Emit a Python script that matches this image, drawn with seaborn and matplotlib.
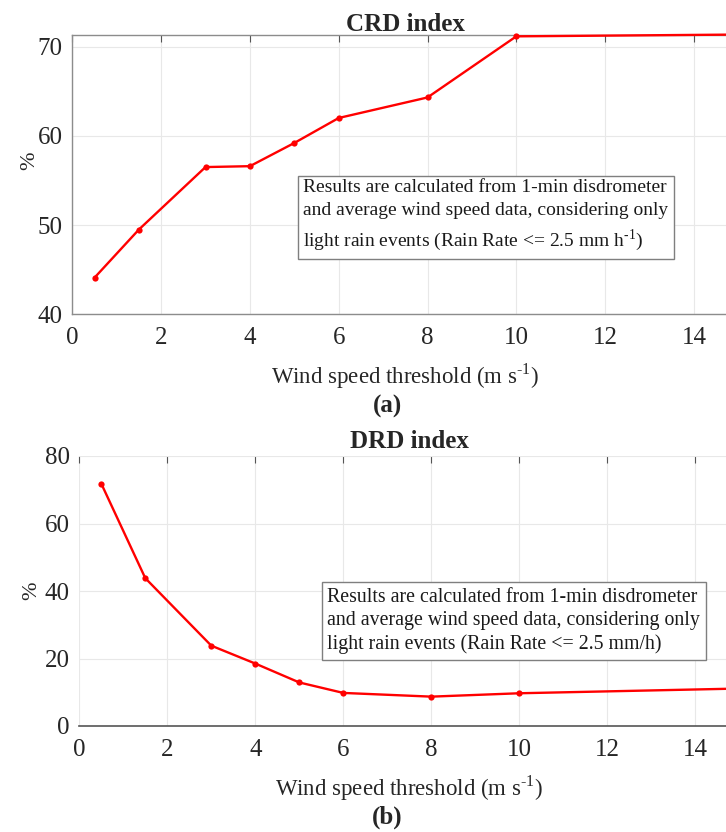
import matplotlib
matplotlib.use("Agg")
import matplotlib.pyplot as plt
import seaborn as sns
import pandas as pd

# Wind speed thresholds (m/s) and index values (%)
wind_threshold = [0.5, 1.5, 3, 4, 5, 6, 8, 10, 15]
crd_values = [44.1, 49.5, 56.5, 56.6, 59.2, 62.0, 64.3, 71.15, 71.35]
drd_values = [71.8, 43.8, 23.8, 18.5, 12.9, 9.8, 8.7, 9.7, 11.1]

x_ticks = [0, 2, 4, 6, 8, 10, 12, 14]
crd_yticks = [40, 50, 60, 70]
drd_yticks = [0, 20, 40, 60, 80]

note_crd = ("Results are calculated from 1-min disdrometer\n"
            "and average wind speed data, considering only\n"
            "light rain events (Rain Rate <= 2.5 mm h$^{\\text{-1}}$)")
note_drd = ("Results are calculated from 1-min disdrometer\n"
            "and average wind speed data, considering only\n"
            "light rain events (Rain Rate <= 2.5 mm/h)")
x_label = "Wind speed threshold (m s$^{\\text{-1}}$)"

sns.set_theme(style="white")
plt.rcParams["font.family"] = ["Liberation Serif", "DejaVu Serif"]
plt.rcParams["mathtext.fontset"] = "custom"
plt.rcParams["mathtext.rm"] = "Liberation Serif"

W, H = 726, 832
fig = plt.figure(figsize=(W / 100, H / 100), dpi=100)


def px_axes(left, top, right, bottom):
    return fig.add_axes([left / W, 1 - bottom / H, (right - left) / W, (bottom - top) / H])


ax1 = px_axes(72.3, 35, 738.3, 314.3)
ax2 = px_axes(79.3, 456, 739.3, 726)

df1 = pd.DataFrame({"wind": wind_threshold, "val": crd_values})
df2 = pd.DataFrame({"wind": wind_threshold, "val": drd_values})

for ax, df in ((ax1, df1), (ax2, df2)):
    sns.lineplot(data=df, x="wind", y="val", ax=ax, color="#ff0000", lw=1.7,
                 marker="o", markersize=4.5, markeredgewidth=0, clip_on=False, zorder=3)
    ax.set_xlim(0, 15)
    ax.set_xticks(x_ticks)
    ax.grid(True, color="#e8e8e8", lw=0.8, zorder=0)
    ax.tick_params(axis="both", direction="in", length=5, width=0.8, color="#555555",
                   top=True, right=True, labelsize=18, labelcolor="#262626")
    ax.tick_params(axis="x", pad=9)
    ax.tick_params(axis="y", pad=7)
    ax.set_xlabel(x_label, fontsize=16.5, color="#262626", labelpad=9)
    ax.set_ylabel("%", fontsize=16, color="#262626")
    ax.set_facecolor("white")

ax1.set_ylim(40, 71.3)
ax1.set_yticks(crd_yticks)
for s in ax1.spines.values():
    s.set_color("#8c8c8c")
    s.set_linewidth(1.0)

ax2.set_ylim(0, 80)
ax2.set_yticks(drd_yticks)
for name, s in ax2.spines.items():
    s.set_visible(name == "bottom")
ax2.spines["bottom"].set_color("#555555")
ax2.spines["bottom"].set_linewidth(1.2)

ax1.set_title("CRD index", fontsize=18, fontweight="bold", pad=3)
ax2.set_title("DRD index", fontsize=18, fontweight="bold", pad=6)

ax1.yaxis.set_label_coords(-0.05, 0.55)
ax2.yaxis.set_label_coords(-0.058, 0.5)

box = dict(boxstyle="square,pad=0.3", fc="white", ec="#7f7f7f", lw=1.0)
ax1.text(0.347, 0.352, note_crd, transform=ax1.transAxes, fontsize=14,
         ha="left", va="center", linespacing=1.45, bbox=box, color="#1a1a1a", zorder=5)
ax2.text(0.376, 0.39, note_drd, transform=ax2.transAxes, fontsize=14.3,
         ha="left", va="center", linespacing=1.3, bbox=box, color="#1a1a1a", zorder=5)

fig.text(387 / W, 1 - 406 / H, "(a)", fontsize=18, fontweight="bold", ha="center", va="center")
fig.text(387 / W, 1 - 817 / H, "(b)", fontsize=18, fontweight="bold", ha="center", va="center")

fig.savefig("out.png", dpi=100, facecolor="white")
